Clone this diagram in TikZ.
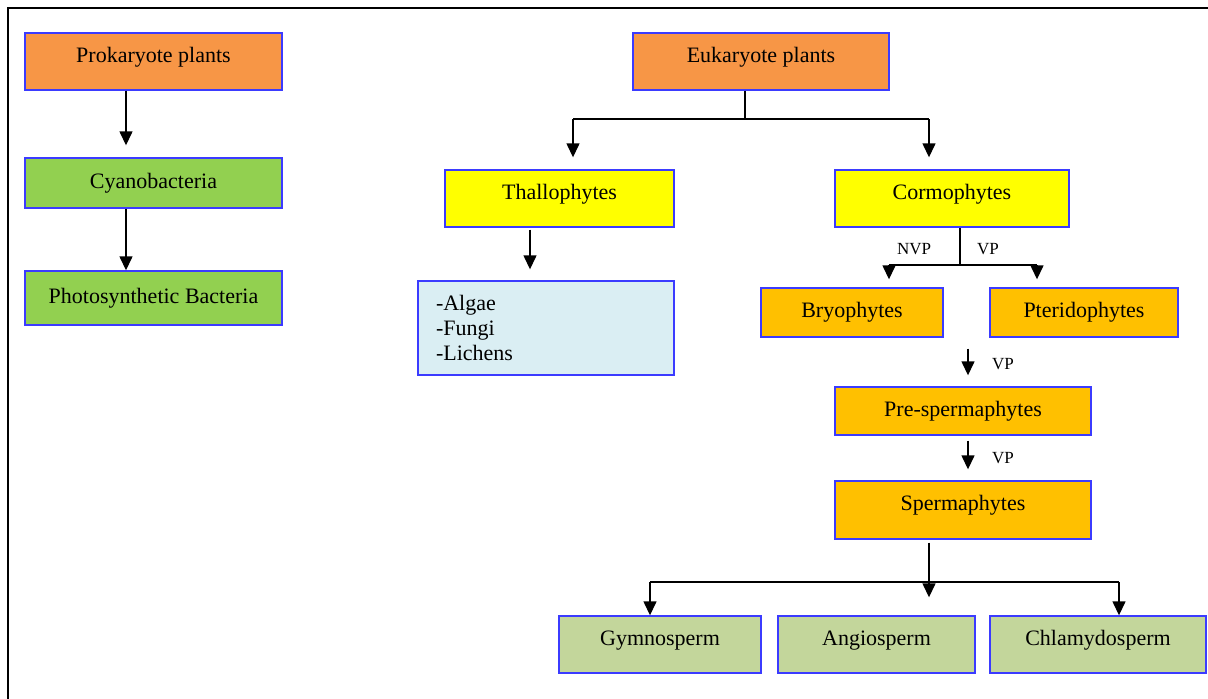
\documentclass[tikz,border=0pt]{standalone}
\usepackage{fontspec}
\setmainfont{Liberation Serif}
\usetikzlibrary{arrows.meta}
\definecolor{bordblue}{HTML}{3B3BFF}
\definecolor{orgfill}{HTML}{F79646}
\definecolor{grnfill}{HTML}{92D050}
\definecolor{yelfill}{HTML}{FFFF00}
\definecolor{bluefill}{HTML}{DAEEF3}
\definecolor{goldfill}{HTML}{FFC000}
\definecolor{olivefill}{HTML}{C3D69B}
\tikzset{
  box/.style={draw=bordblue, line width=1.4pt, rectangle, inner sep=0pt,
    font=\fontsize{22}{25}\selectfont, align=center},
  up/.style={text height=0.58em, text depth=0.45em},
  conn/.style={draw=black, line width=1.4pt},
  arr/.style={conn, -{Triangle[width=13pt,length=14pt]}},
  lab/.style={font=\fontsize{17}{19}\selectfont, inner sep=0pt},
}
\begin{document}
\begin{tikzpicture}[x=1pt,y=-1pt]
\useasboundingbox (0,0) rectangle (1208,699);
\draw[line width=2.2pt] (8,699) -- (8,8) -- (1208,8);

% left column
\node[box, up, fill=orgfill, minimum width=257pt, minimum height=57pt] (prok) at (153.5,61.5) {Prokaryote plants};
\node[box, fill=grnfill, minimum width=257pt, minimum height=50pt] (cyan) at (153.5,183) {Cyanobacteria};
\node[box, fill=grnfill, minimum width=257pt, minimum height=54pt] (photo) at (153.5,298) {Photosynthetic Bacteria};

% right part
\node[box, up, fill=orgfill, minimum width=256pt, minimum height=57pt] (euk) at (761,61.5) {Eukaryote plants};
\node[box, up, fill=yelfill, minimum width=229pt, minimum height=57pt] (thal) at (559.5,198.5) {Thallophytes};
\node[box, fill=bluefill, minimum width=256pt, minimum height=94pt, inner xsep=18pt, text width=220pt, align=left] (alg) at (546,328) {-Algae\\-Fungi\\-Lichens};
\node[box, up, fill=yelfill, minimum width=234pt, minimum height=57pt] (corm) at (952,198.5) {Cormophytes};
\node[box, fill=goldfill, minimum width=182pt, minimum height=49pt] (bryo) at (852,312.5) {Bryophytes};
\node[box, fill=goldfill, minimum width=188pt, minimum height=49pt] (pter) at (1084,312.5) {Pteridophytes};
\node[box, fill=goldfill, minimum width=256pt, minimum height=48pt] (pre) at (963,411) {Pre-spermaphytes};
\node[box, up, fill=goldfill, minimum width=256pt, minimum height=58pt] (sperm) at (963,510) {Spermaphytes};
\node[box, up, fill=olivefill, minimum width=202pt, minimum height=57pt] (gym) at (660,644.5) {Gymnosperm};
\node[box, up, fill=olivefill, minimum width=197pt, minimum height=57pt] (ang) at (876.5,644.5) {Angiosperm};
\node[box, up, fill=olivefill, minimum width=216pt, minimum height=57pt] (chl) at (1098,644.5) {Chlamydosperm};

% labels
\node[lab] (l1) at (914,249) {NVP};
\node[lab] (l2) at (988,249) {VP};
\node[lab] (l3) at (1003,364) {VP};
\node[lab] (l4) at (1003,458) {VP};

% helper coordinates
\coordinate (xl) at (126,0);
\coordinate (tl) at (573,119);
\coordinate (tr) at (929,119);
\coordinate (xt) at (530,0);
\coordinate (cl) at (889,265);
\coordinate (cr) at (1037,265);
\coordinate (xv) at (968,0);
\coordinate (bl) at (650,582);
\coordinate (br) at (1119,582);
\coordinate (xm) at (929,0);

% left arrows
\draw[arr, shorten >=12pt] (prok.south -| xl) -- (cyan.north -| xl);
\draw[arr] (cyan.south -| xl) -- (photo.north -| xl);

% eukaryote branching
\draw[conn] ([xshift=-16pt]euk.south) -- ([xshift=-16pt]euk.south |- tl);
\draw[conn] (tl) -- (tr);
\draw[arr, shorten >=12pt] (tl) -- (thal.north -| tl);
\draw[arr, shorten >=12pt] (tr) -- (corm.north -| tr);

% thallophytes
\draw[arr, shorten <=2pt, shorten >=11pt] (thal.south -| xt) -- (alg.north -| xt);

% cormophytes branching
\draw[conn, line width=1.1pt] ([xshift=8pt]corm.south) -- ([xshift=8pt]corm.south |- cl);
\draw[conn, line width=1.1pt] (cl) -- (cr);
\draw[arr, shorten >=8pt] (cl) -- (bryo.north -| cl);
\draw[arr, shorten >=8pt] (cr) -- (pter.north -| cr);

% VP arrows
\draw[arr, shorten <=11pt, shorten >=11pt] (pter.south -| xv) -- (pre.north -| xv);
\draw[arr, shorten <=5pt, shorten >=11pt] (pre.south -| xv) -- (sperm.north -| xv);

% spermaphytes branching
\draw[arr, shorten <=3pt, shorten >=18pt] (sperm.south -| xm) -- (ang.north -| xm);
\draw[conn] (bl) -- (br);
\draw[arr] (bl) -- (gym.north -| bl);
\draw[arr] (br) -- (chl.north -| br);
\end{tikzpicture}
\end{document}
